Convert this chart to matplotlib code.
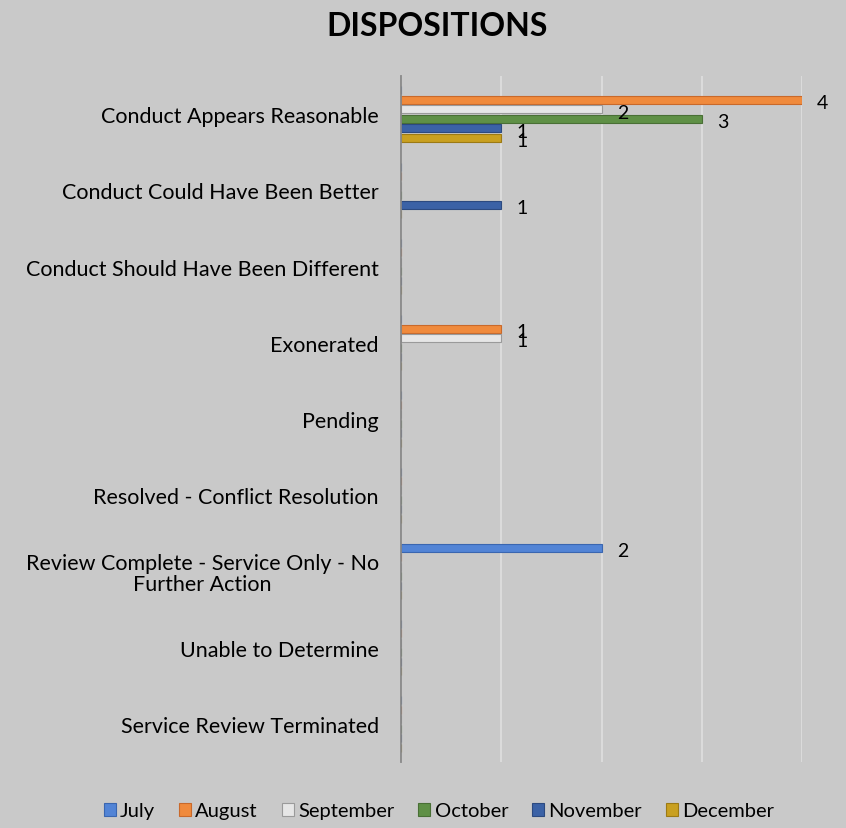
import numpy as np
import matplotlib
matplotlib.use("Agg")
import matplotlib.pyplot as plt

categories = [
    "Conduct Appears Reasonable",
    "Conduct Could Have Been Better",
    "Conduct Should Have Been Different",
    "Exonerated",
    "Pending",
    "Resolved - Conflict Resolution",
    "Review Complete - Service Only - No\nFurther Action",
    "Unable to Determine",
    "Service Review Terminated",
]
months = ["July", "August", "September", "October", "November", "December"]
nan = np.nan
july = [nan, nan, nan, nan, nan, nan, 2, nan, nan]
august = [4, nan, nan, 1, nan, nan, nan, nan, nan]
september = [2, nan, nan, 1, nan, nan, nan, nan, nan]
october = [3, nan, nan, nan, nan, nan, nan, nan, nan]
november = [1, 1, nan, nan, nan, nan, nan, nan, nan]
december = [1, nan, nan, nan, nan, nan, nan, nan, nan]
series = [july, august, september, october, november, december]

colors = ["#5284d6", "#f08a3c", "#e6e6e6", "#5f9046", "#3b62a6", "#c9a020"]
edges = ["#3a66b0", "#c9692a", "#9a9a9a", "#496f35", "#2c4a80", "#9c7a14"]

bg = "#c9c9c9"
plt.rcParams["font.family"] = ["Lato", "DejaVu Sans"]

fig = plt.figure(figsize=(8.46, 8.29), dpi=100, facecolor=bg)
ax = fig.add_axes([401 / 846, 66 / 829, 401 / 846, 686 / 829], facecolor=bg)

y = np.arange(len(categories))
slot = 0.124
h = 0.105
for j, (vals, name) in enumerate(zip(series, months)):
    ys = y + (j - 2.5) * slot
    v = np.array(vals, dtype=float)
    ax.barh(ys, np.nan_to_num(v), height=h, color=colors[j], edgecolor=edges[j],
            linewidth=0.8, label=name, zorder=3)
    for yy, val in zip(ys, v):
        if not np.isnan(val):
            ax.annotate(f"{val:.0f}", (val, yy), xytext=(11, -2), textcoords="offset points",
                        ha="left", va="center", fontsize=14, color="#000000", zorder=4)

ax.set_xlim(0, 4)
ax.set_ylim(len(categories) - 0.5, -0.5)
ax.set_xticks([0, 1, 2, 3, 4])
ax.set_xticklabels([])
ax.tick_params(axis="x", length=0)
ax.tick_params(axis="y", length=0, pad=16, labelsize=15.5)
ax.set_yticks(y)
ax.set_yticklabels(categories)
for t in ax.get_yticklabels():
    t.set_multialignment("center")
    t.set_linespacing(1.05)
ax.grid(axis="x", color="#dedede", linewidth=1.3, zorder=0)
for s in ["top", "right", "bottom"]:
    ax.spines[s].set_visible(False)
ax.spines["left"].set_color("#888888")
ax.spines["left"].set_linewidth(1.3)
ax.spines["left"].set_zorder(5)

fig.text(437.5 / 846, 1 - 27 / 829, "DISPOSITIONS", ha="center", va="center",
         fontsize=23, fontweight="bold")

handles, labels = ax.get_legend_handles_labels()
fig.legend(handles, labels, loc="center", bbox_to_anchor=(439 / 846, 1 - 812 / 829),
           ncol=6, frameon=False, fontsize=14.5, handlelength=0.6, handleheight=0.6,
           handletextpad=0.2, columnspacing=1.2)

fig.savefig("out.png", dpi=100, facecolor=bg)
